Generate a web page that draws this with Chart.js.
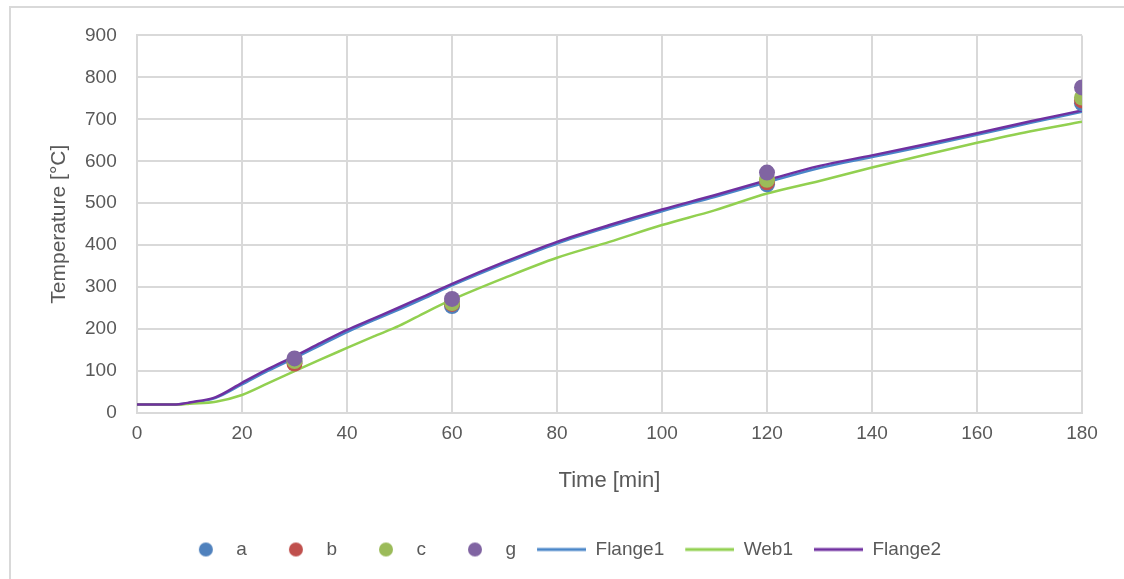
<!DOCTYPE html>
<html lang="en">
<head>
    <meta charset="UTF-8">
    <title>Temperature vs Time</title>
    <script src="https://cdn.jsdelivr.net/npm/chart.js"></script>
    <style>
        html, body { margin: 0; padding: 0; background: #fff; overflow: hidden; }
        /* outer frame like the Excel chart area */
        .frame { position: absolute; left: 9px; top: 6px; width: 1130px; height: 600px; border: 2px solid #d9d9d9; }
        .box { position: absolute; left: 12px; top: 9px; width: 1104px; height: 566px; }
    </style>
</head>
<body>
    <div class="frame"></div>
    <div class="box"><canvas id="tempChart"></canvas></div>
    <script>
        // Time axis of the measured curves (min)
        const timeMin = [0, 5, 8, 10, 15, 20, 25, 30, 35, 40, 45, 50, 55, 60, 70, 80, 90, 100, 110, 120, 130, 140, 150, 160, 170, 180];
        const flange1 = [20, 20, 21, 24, 36, 68, 101, 131, 162, 193, 221, 247, 275, 304, 356, 404, 444, 481, 515, 550, 584, 610, 636, 663, 691, 718];
        const web1    = [20, 20, 20, 22, 27, 43, 71, 100, 128, 155, 182, 208, 240, 270, 322, 370, 408, 448, 483, 523, 553, 585, 615, 644, 671, 694];
        const flange2 = [20, 20, 21, 25, 38, 72, 105, 135, 167, 198, 225, 252, 280, 308, 360, 408, 448, 485, 519, 555, 589, 614, 640, 667, 695, 721];

        // Point measurements
        const pointTimes = [30, 60, 120, 180];
        const valA = [122, 255, 545, 738];
        const valB = [118, 260, 550, 745];
        const valC = [124, 262, 556, 752];
        const valG = [130, 272, 573, 776];

        const yTicks = [0, 100, 200, 300, 400, 500, 600, 700, 800, 900];
        const xTicks = [0, 20, 40, 60, 80, 100, 120, 140, 160, 180];

        const fontFam = "'Liberation Sans', Arial, sans-serif";
        const textCol = '#595959';
        const gridCol = '#d9d9d9';

        function pairs(xs, ys) {
            return xs.map((x, i) => ({ x: x, y: ys[i] }));
        }

        // small legend symbols, same width for all entries (like Excel)
        function symbol(kind, color) {
            const c = document.createElement('canvas');
            c.width = 50; c.height = 18;
            const g = c.getContext('2d');
            if (kind === 'dot') {
                g.fillStyle = color;
                g.beginPath(); g.arc(29, 9, 7, 0, Math.PI * 2); g.fill();
            } else {
                g.strokeStyle = color; g.lineWidth = 3;
                g.beginPath(); g.moveTo(1, 9); g.lineTo(50, 9); g.stroke();
            }
            return c;
        }

        function dotSet(label, data, color, order) {
            return {
                type: 'scatter', label: label, data: pairs(pointTimes, data),
                backgroundColor: color, borderColor: color, pointRadius: 8, pointHoverRadius: 8,
                pointBorderWidth: 0, order: order, legendSym: symbol('dot', color)
            };
        }

        function lineSet(label, data, color, order) {
            return {
                type: 'line', label: label, data: pairs(timeMin, data),
                borderColor: color, backgroundColor: color, borderWidth: 2.5,
                pointRadius: 0, cubicInterpolationMode: 'monotone', order: order,
                legendSym: symbol('line', color)
            };
        }

        const datasets = [
            dotSet('a', valA, '#4f81bd', 3),
            dotSet('b', valB, '#c0504d', 2),
            dotSet('c', valC, '#9bbb59', 1),
            dotSet('g', valG, '#8064a2', 0),
            lineSet('Flange1', flange1, '#4a86c8', 6),
            lineSet('Web1', web1, '#92d050', 5),
            lineSet('Flange2', flange2, '#7030a0', 4)
        ];

        new Chart(document.getElementById('tempChart'), {
            data: { datasets: datasets },
            options: {
                responsive: true,
                maintainAspectRatio: false,
                animation: false,
                layout: { padding: { top: 10, right: 34, bottom: 6, left: 24 } },
                plugins: {
                    tooltip: { enabled: false },
                    legend: {
                        position: 'bottom',
                        labels: {
                            usePointStyle: true,
                            pointStyleWidth: 50,
                            padding: 20,
                            color: textCol,
                            font: { family: fontFam, size: 19 },
                            sort: (a, b) => a.datasetIndex - b.datasetIndex,
                            generateLabels: chart => chart.data.datasets.map((ds, i) => ({
                                text: ds.label, datasetIndex: i, pointStyle: ds.legendSym,
                                fillStyle: ds.borderColor, strokeStyle: ds.borderColor,
                                lineWidth: 0, hidden: false, fontColor: textCol
                            }))
                        }
                    }
                },
                scales: {
                    x: {
                        type: 'linear', min: 0, max: 180,
                        afterBuildTicks: s => { s.ticks = xTicks.map(v => ({ value: v })); },
                        afterFit: s => { s.height = 107; },
                        grid: { color: gridCol, lineWidth: 2, drawTicks: false },
                        border: { color: gridCol, width: 2 },
                        ticks: { color: textCol, padding: 9, font: { family: fontFam, size: 19 } },
                        title: { display: true, text: 'Time [min]', color: textCol, padding: { top: 0, bottom: 26 }, font: { family: fontFam, size: 22 } }
                    },
                    y: {
                        min: 0, max: 900,
                        afterBuildTicks: s => { s.ticks = yTicks.map(v => ({ value: v })); },
                        afterFit: s => { s.width = 101; },
                        grid: { color: gridCol, lineWidth: 2, drawTicks: false },
                        border: { color: gridCol, width: 2 },
                        ticks: { color: textCol, padding: 15, font: { family: fontFam, size: 19 }, callback: v => v + ' ' },
                        title: { display: true, text: 'Temperature [°C]', color: textCol, padding: { top: 11, bottom: 0 }, font: { family: fontFam, size: 21 } }
                    }
                }
            }
        });
    </script>
</body>
</html>
